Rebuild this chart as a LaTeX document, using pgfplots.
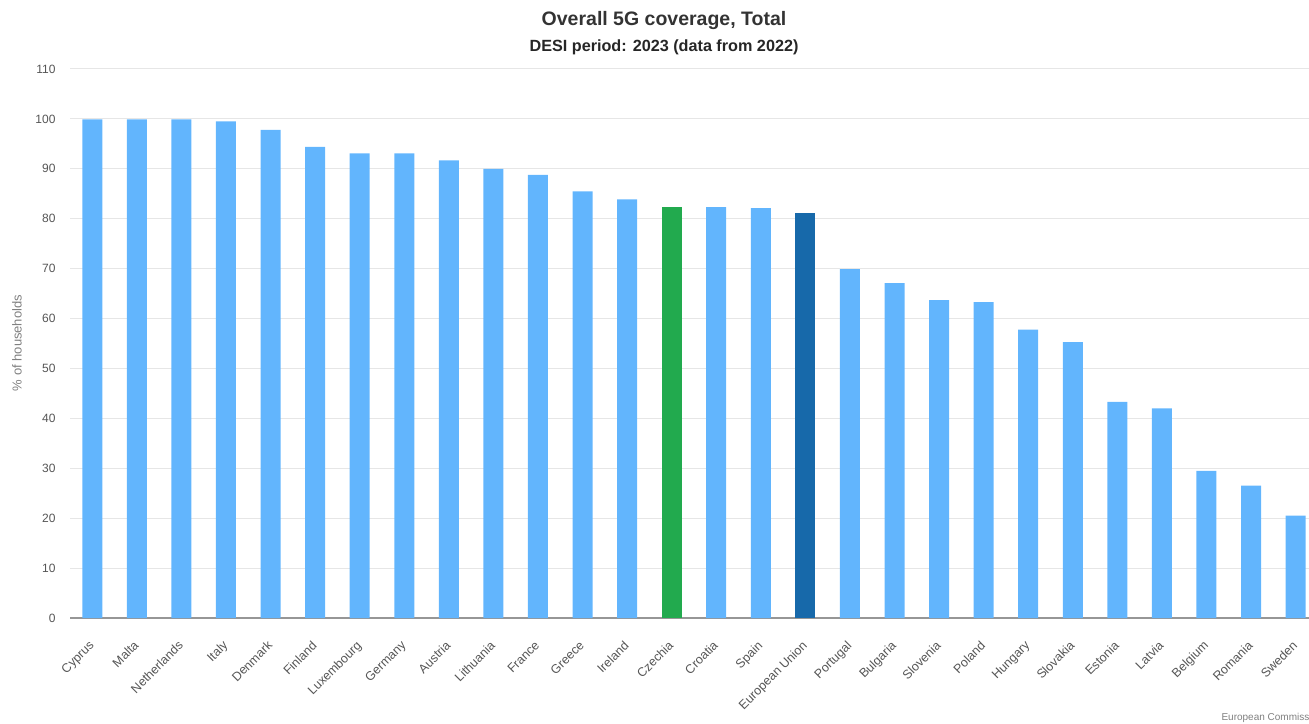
\documentclass[border=0pt]{standalone}
\usepackage{pgfplots}
\pgfplotsset{compat=1.18}
\usepackage{fontspec}
\setmainfont{Liberation Sans}
\definecolor{barblue}{RGB}{98,181,253}
\definecolor{bargreen}{RGB}{34,170,78}
\definecolor{bardark}{RGB}{23,105,170}
\definecolor{gridgray}{RGB}{230,230,230}
\definecolor{axisgray}{RGB}{150,150,150}
\definecolor{labelgray}{RGB}{85,85,85}
\begin{document}
\begin{tikzpicture}[x=1pt,y=1pt]
\clip (0,0) rectangle (1309,723);
\begin{axis}[
  at={(70pt,105pt)}, anchor=south west,
  scale only axis,
  width=1239pt, height=549pt,
  xmin=-0.5, xmax=27.3,
  ymin=0, ymax=110,
  ytick={0,10,...,110},
  xtick={0,...,27},
  xticklabels={Cyprus,Malta,Netherlands,Italy,Denmark,Finland,Luxembourg,Germany,Austria,Lithuania,France,Greece,Ireland,Czechia,Croatia,Spain,European Union,Portugal,Bulgaria,Slovenia,Poland,Hungary,Slovakia,Estonia,Latvia,Belgium,Romania,Sweden},
  xticklabel style={xshift=-4pt, yshift=-19pt, rotate=45, anchor=north east, font=\fontsize{12.5}{14}\selectfont, text=labelgray, inner sep=2pt},
  yticklabel style={font=\fontsize{12}{14}\selectfont, text=labelgray, xshift=-11pt},
  /pgf/number format/assume math mode=true,
  ymajorgrids, grid style={gridgray, line width=1pt},
  axis x line*=bottom, axis y line*=left,
  y axis line style={draw=none},
  x axis line style={axisgray, line width=1.5pt, -},
  major tick length=0pt,
  ybar, bar width=20pt, bar shift=0pt,
  clip=false,
  every axis plot/.append style={draw=none},
]
\addplot[fill=barblue] coordinates {
(0,99.9) (1,99.9) (2,99.9) (3,99.5) (4,97.8) (5,94.4) (6,93.1) (7,93.1) (8,91.7) (9,90.0) (10,88.8) (11,85.5) (12,83.9)
(14,82.3) (15,82.1) (17,69.9) (18,67.1) (19,63.7) (20,63.3) (21,57.8) (22,55.3) (23,43.3) (24,42.0) (25,29.5) (26,26.5) (27,20.5)};
\addplot[fill=bargreen] coordinates {(13,82.3)};
\addplot[fill=bardark] coordinates {(16,81.1)};
\end{axis}
\node[font=\bfseries\fontsize{19.5}{22}\selectfont, text=black!80] at (664,702) {Overall 5G coverage, Total};
\node[font=\bfseries\fontsize{16.2}{19}\selectfont, text=black!85] at (664,676) {DESI period: 2023 (data from 2022)};
\node[rotate=90, font=\fontsize{13}{15}\selectfont, text=gray] at (17,380) {\% of households};
\node[anchor=west, font=\fontsize{10}{12}\selectfont, text=gray] at (1218,5) {European Commission};
\end{tikzpicture}
\end{document}
